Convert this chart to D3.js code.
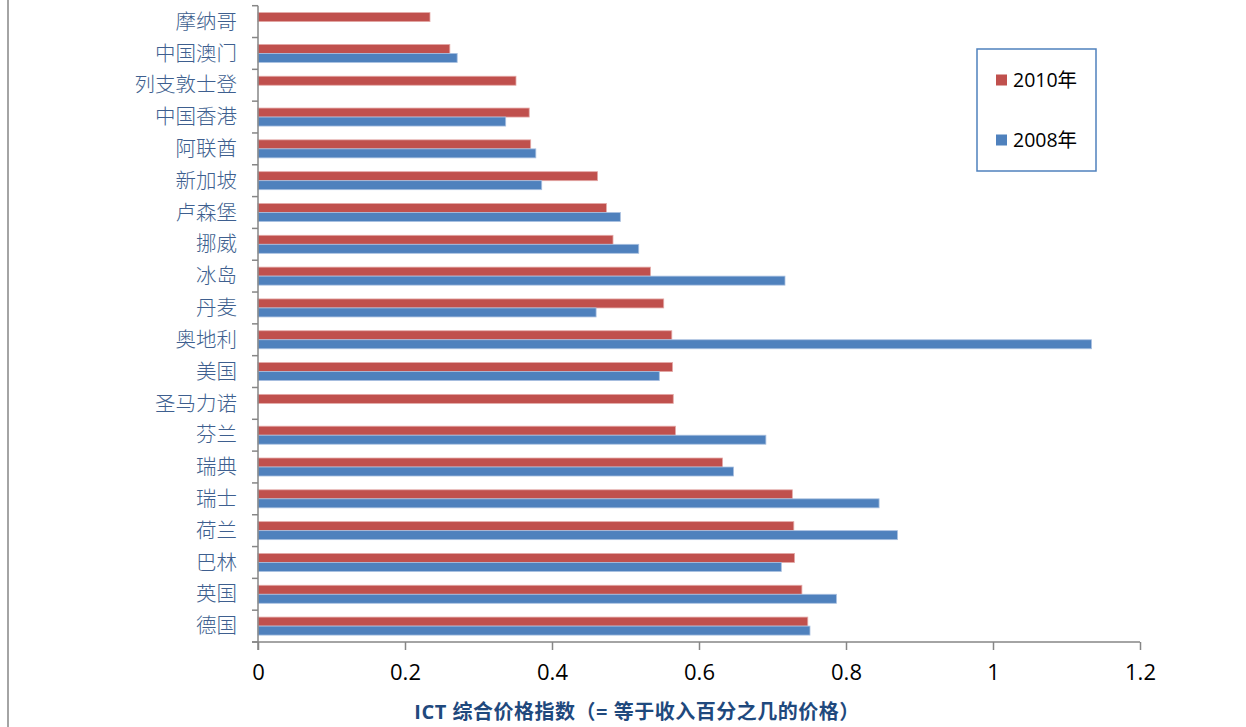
<!DOCTYPE html>
<html>
<head>
<meta charset="utf-8">
<script src="https://cdn.jsdelivr.net/npm/d3@7"></script>
<style>
  html, body { margin: 0; padding: 0; background: #fff; }
  svg { display: block; }
</style>
</head>
<body>
<svg id="chart" width="1246" height="727"></svg>
<script>
// ---- data (top to bottom) ----
const categories = ["摩纳哥","中国澳门","列支敦士登","中国香港","阿联酋","新加坡","卢森堡","挪威","冰岛","丹麦","奥地利","美国","圣马力诺","芬兰","瑞典","瑞士","荷兰","巴林","英国","德国"];
const values2010 = [0.234,0.261,0.351,0.369,0.371,0.462,0.474,0.483,0.534,0.552,0.563,0.564,0.565,0.568,0.632,0.727,0.729,0.730,0.740,0.748];
const values2008 = [null,0.271,null,0.337,0.378,0.386,0.493,0.518,0.717,0.460,1.134,0.546,null,0.691,0.647,0.845,0.870,0.712,0.787,0.751];
const seriesNames = ["2010年","2008年"];
const xTicks = [0,0.2,0.4,0.6,0.8,1,1.2];
const xTitle = "ICT 综合价格指数（= 等于收入百分之几的价格）";

const colors = {"2010年":"#C0504D","2008年":"#4F81BD"};
const strokes = {"2010年":"#E4A9A7","2008年":"#A9C0E0"};

const svg = d3.select("#chart");

// left frame line
svg.append("line").attr("x1",8).attr("x2",8).attr("y1",0).attr("y2",727)
  .attr("stroke","#868686").attr("stroke-width",1.5);

const x = d3.scaleLinear().domain([0,1.2]).range([258,1140]);
const y = d3.scaleBand().domain(categories).range([5.7,642]).paddingInner(0.434).paddingOuter(0.217);
const ySub = d3.scaleBand().domain(seriesNames).range([0,y.bandwidth()]);

const rows = categories.map((c,i)=>({cat:c, vals:[{s:"2010年",v:values2010[i]},{s:"2008年",v:values2008[i]}]}));

const g = svg.append("g");
g.selectAll("g.row").data(rows).join("g").attr("class","row")
  .attr("transform",d=>`translate(0,${y(d.cat)})`)
  .selectAll("rect").data(d=>d.vals.filter(v=>v.v!=null)).join("rect")
  .attr("x",x(0))
  .attr("y",d=>ySub(d.s))
  .attr("width",d=>x(d.v)-x(0))
  .attr("height",ySub.bandwidth())
  .attr("fill",d=>colors[d.s])
  .attr("stroke",d=>strokes[d.s])
  .attr("stroke-width",0.8);

// category axis
const step = y.step();
const yStart = 5.7;
const yAxisG = svg.append("g");
yAxisG.append("line").attr("x1",258).attr("x2",258).attr("y1",yStart).attr("y2",650)
  .attr("stroke","#868686").attr("stroke-width",1.5);
d3.range(categories.length+1).forEach(i=>{
  const yy = yStart + i*step;
  yAxisG.append("line").attr("x1",252).attr("x2",258).attr("y1",yy).attr("y2",yy)
    .attr("stroke","#868686").attr("stroke-width",1.5);
});
yAxisG.selectAll("text").data(categories).join("text")
  .attr("x",237)
  .attr("y",d=>y(d)+y.bandwidth()/2)
  .attr("dy","0.35em")
  .attr("text-anchor","end")
  .attr("font-family","'Noto Sans CJK SC', sans-serif")
  .attr("font-weight",300)
  .attr("font-size",20.5)
  .attr("fill","#3E5F8F")
  .text(d=>d);

// value axis
const xAxis = d3.axisBottom(x).tickValues(xTicks).tickSize(8).tickPadding(14)
  .tickFormat(d=>String(d));
const xAxisG = svg.append("g").attr("transform","translate(0,642)").call(xAxis);
xAxisG.select(".domain").attr("stroke","#868686").attr("stroke-width",1.5)
  .attr("d","M252,0H1140");
xAxisG.selectAll(".tick line").attr("stroke","#868686").attr("stroke-width",1.5);
xAxisG.selectAll(".tick text")
  .attr("font-family","'Open Sans', sans-serif")
  .attr("font-size",22)
  .attr("fill","#000");

// axis title
svg.append("text")
  .attr("x",637).attr("y",719)
  .attr("text-anchor","middle")
  .attr("font-family","'Open Sans','Noto Sans CJK SC', sans-serif")
  .attr("font-weight","bold")
  .attr("font-size",20)
  .attr("letter-spacing",0.5)
  .attr("fill","#1F497D")
  .text(xTitle);

// legend
const leg = svg.append("g");
leg.append("rect").attr("x",977).attr("y",49).attr("width",119).attr("height",122)
  .attr("fill","#fff").attr("stroke","#4F81BD").attr("stroke-width",1.5);
const legY = d3.scalePoint().domain(seriesNames).range([80,140]);
seriesNames.forEach(s=>{
  leg.append("rect").attr("x",996).attr("y",legY(s)-5.5).attr("width",11).attr("height",11)
    .attr("fill",colors[s]);
  leg.append("text").attr("x",1013).attr("y",legY(s)).attr("dy","0.35em")
    .attr("font-family","'Open Sans','Noto Sans CJK SC', sans-serif")
    .attr("font-size",19.5).attr("fill","#000").text(s);
});
</script>
</body>
</html>
